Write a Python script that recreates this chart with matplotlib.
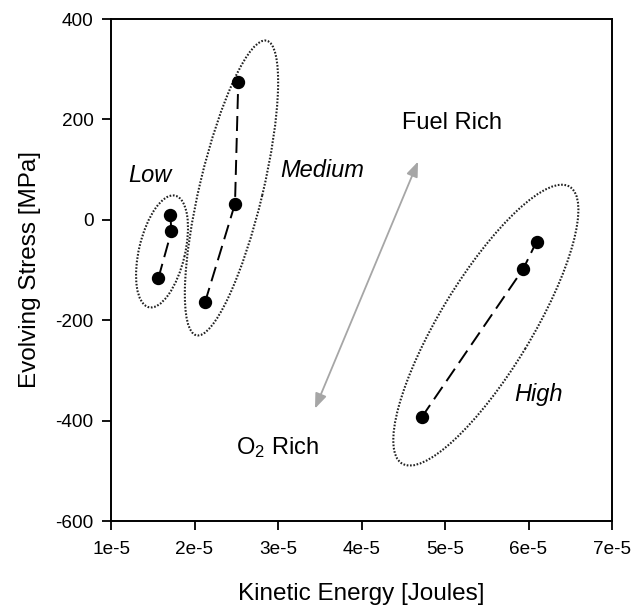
import matplotlib
matplotlib.use("Agg")
import matplotlib.pyplot as plt
from matplotlib.patches import Ellipse
from matplotlib import transforms

plt.rcParams['font.family'] = ['Liberation Sans', 'DejaVu Sans']
plt.rcParams['mathtext.fontset'] = 'custom'
plt.rcParams['mathtext.rm'] = 'Liberation Sans'
plt.rcParams['mathtext.it'] = 'Liberation Sans:italic'
plt.rcParams['axes.unicode_minus'] = False

# Kinetic energy [J] and evolving stress [MPa] for each group
low_x = [1.567e-5, 1.723e-5, 1.711e-5]
low_y = [-116.5, -23.3, 10.0]
medium_x = [2.126e-5, 2.485e-5, 2.524e-5]
medium_y = [-164.3, 31.9, 274.4]
high_x = [4.72e-5, 5.937e-5, 6.097e-5]
high_y = [-393.6, -97.7, -43.3]

x_ticks = [1e-5, 2e-5, 3e-5, 4e-5, 5e-5, 6e-5, 7e-5]
x_tick_labels = ['1e-5', '2e-5', '3e-5', '4e-5', '5e-5', '6e-5', '7e-5']
y_ticks = [-600, -400, -200, 0, 200, 400]

fig = plt.figure(figsize=(6.34, 6.05), dpi=100)
ax = fig.add_axes([111 / 634, 1 - 521 / 605, 501 / 634, 502 / 605])

for xs, ys in [(low_x, low_y), (medium_x, medium_y), (high_x, high_y)]:
    ax.plot(xs, ys, color='black', lw=1.4, dashes=(7.7, 3.6),
            marker='o', markersize=8.6, markerfacecolor='black',
            markeredgecolor='black', zorder=3)

# Dotted grouping ellipses: centre in data units, size in pixels
groups = [
    ((1.611e-5, -63.0), 114.6, 46.0, 76.7),
    ((2.443e-5, 63.4), 302.8, 63.2, 76.6),
    ((5.489e-5, -209.8), 323.6, 91.8, 58.8),
]
for (cx, cy), w, h, ang in groups:
    tr = transforms.ScaledTranslation(cx, cy, ax.transData)
    e = Ellipse((0, 0), w, h, angle=ang, transform=tr, fill=False,
                edgecolor='#222222', lw=1.5, linestyle=(0, (0.8, 0.8)))
    ax.add_patch(e)

# Gray double-headed arrow between the two regimes
ax.annotate('', xy=(4.677e-5, 116), xytext=(3.443e-5, -376),
            arrowprops=dict(arrowstyle='<|-|>,head_length=0.9,head_width=0.35',
                            color='#a6a6a6', lw=1.3, shrinkA=0, shrinkB=0))

ax.text(1.467e-5, 75, 'Low', style='italic', fontsize=17, ha='center', va='baseline')
ax.text(3.527e-5, 85, 'Medium', style='italic', fontsize=17, ha='center', va='baseline')
ax.text(6.114e-5, -361.7, 'High', style='italic', fontsize=17, ha='center', va='baseline')
ax.text(5.08e-5, 181.5, 'Fuel Rich', fontsize=17, ha='center', va='baseline')
ax.text(2.988e-5, -466.6, 'O$_2$ Rich', fontsize=17, ha='center', va='baseline')

ax.set_xlim(1e-5, 7e-5)
ax.set_ylim(-600, 400)
ax.set_xticks(x_ticks)
ax.set_xticklabels(x_tick_labels)
ax.set_yticks(y_ticks)
ax.tick_params(axis='both', direction='out', length=6.5, width=1.3,
               labelsize=13.7, pad=6, top=False, right=False)
ax.tick_params(axis='x', pad=8)
for sp in ax.spines.values():
    sp.set_linewidth(1.4)

ax.set_xlabel('Kinetic Energy [Joules]', fontsize=17.5, labelpad=18)
ax.set_ylabel('Evolving Stress [MPa]', fontsize=17.5, labelpad=10)

fig.savefig('out.png', dpi=100)
